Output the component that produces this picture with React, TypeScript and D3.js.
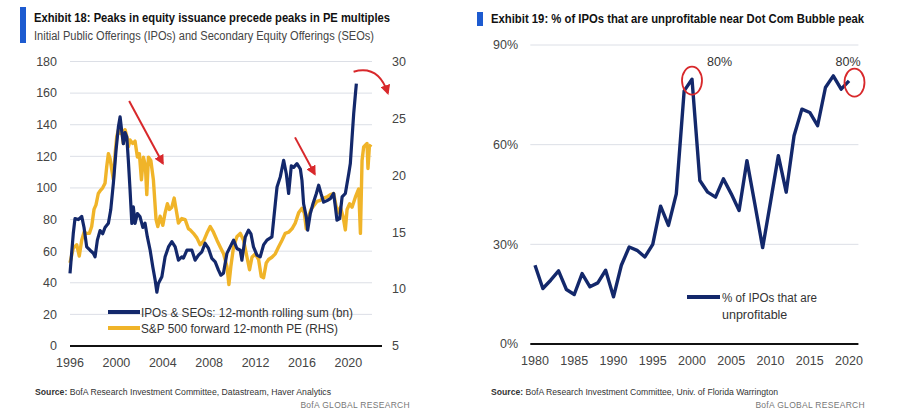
import React from "react";
import * as d3 from "d3";

// Exhibit 18: IPOs & SEOs 12-month rolling sum (bn), left axis
const issuanceYears = [
  1996.0, 1996.28, 1996.43, 1996.72, 1997.01, 1997.21, 1997.44, 1997.73, 1998.01, 1998.16,
  1998.36, 1998.59, 1998.82, 1999.02, 1999.31, 1999.51, 1999.74, 1999.97, 2000.17, 2000.32,
  2000.46, 2000.6, 2000.75, 2000.9, 2001.03, 2001.18, 2001.33, 2001.46, 2001.61, 2001.81,
  2002.04, 2002.28, 2002.47, 2002.67, 2002.91, 2003.14, 2003.34, 2003.49, 2003.62, 2003.92,
  2004.2, 2004.49, 2004.78, 2005.07, 2005.35, 2005.64, 2005.78, 2006.08, 2006.51, 2006.79,
  2007.08, 2007.37, 2007.65, 2007.94, 2008.23, 2008.52, 2008.8, 2009.01, 2009.23, 2009.53,
  2009.81, 2010.1, 2010.39, 2010.68, 2010.82, 2011.11, 2011.39, 2011.6, 2011.82, 2012.12,
  2012.4, 2012.69, 2012.98, 2013.41, 2013.7, 2013.85, 2014.13, 2014.42, 2014.65, 2014.85,
  2015.08, 2015.28, 2015.57, 2015.86, 2016.0, 2016.14, 2016.37, 2016.49, 2016.72, 2016.95,
  2017.24, 2017.44, 2017.64, 2017.87, 2018.16, 2018.45, 2018.73, 2018.88, 2019.02, 2019.25,
  2019.46, 2019.74, 2020.03, 2020.17, 2020.32, 2020.46, 2020.61, 2020.69,
];
const issuanceValues = [
  46, 71, 80.6, 80, 82, 75, 62.7, 60.6, 58.7, 56.4,
  67, 73, 71, 75, 77.6, 86, 103, 124, 138.5, 145,
  136, 128, 135, 132, 117.5, 98.5, 77.5, 88, 77.5, 83.8,
  81.7, 75, 77.7, 69, 60.6, 50, 41.7, 34, 39.6, 43.8,
  56.4, 62.7, 66, 62.7, 54.3, 56.4, 55.6, 60.6, 60.6, 54.3,
  57.5, 59.6, 65, 61.7, 55.4, 53.2, 48, 44.8, 46, 58.6,
  62.7, 67, 61.7, 60.6, 54.3, 69, 73.3, 71, 62.7, 57.5,
  56.4, 64, 67, 69, 90, 100.6, 107, 117.5, 109, 96.5,
  114, 113, 115.4, 112, 104.8, 90, 81.7, 73.3, 83.8, 90,
  96.5, 101.7, 96.5, 91, 92, 93.3, 96.5, 88, 79.6, 80.6,
  94.3, 96.5, 109, 115.4, 132, 147, 159.6, 166,
];

// S&P 500 forward 12-month PE, right axis
const peYears = [
  1996.0, 1996.28, 1996.58, 1996.8, 1997.01, 1997.21, 1997.44, 1997.67, 1997.87, 1998.07,
  1998.24, 1998.44, 1998.65, 1998.82, 1999.02, 1999.17, 1999.31, 1999.45, 1999.6, 1999.74,
  1999.89, 2000.03, 2000.17, 2000.32, 2000.46, 2000.6, 2000.75, 2000.9, 2001.03, 2001.18,
  2001.41, 2001.61, 2001.81, 2001.98, 2002.16, 2002.33, 2002.5, 2002.62, 2002.76, 2002.97,
  2003.19, 2003.42, 2003.57, 2003.77, 2004.0, 2004.2, 2004.4, 2004.57, 2004.78, 2004.98,
  2005.15, 2005.35, 2005.64, 2005.93, 2006.21, 2006.36, 2006.64, 2006.94, 2007.22, 2007.51,
  2007.8, 2008.09, 2008.37, 2008.67, 2008.95, 2009.24, 2009.53, 2009.7, 2009.87, 2010.1,
  2010.39, 2010.68, 2010.96, 2011.26, 2011.48, 2011.69, 2011.97, 2012.26, 2012.49, 2012.69,
  2012.92, 2013.12, 2013.41, 2013.7, 2013.98, 2014.28, 2014.56, 2014.85, 2015.14, 2015.42,
  2015.71, 2016.0, 2016.2, 2016.37, 2016.57, 2016.78, 2017.0, 2017.29, 2017.58, 2017.87,
  2018.16, 2018.45, 2018.73, 2018.96, 2019.16, 2019.31, 2019.54, 2019.74, 2019.89, 2020.11,
  2020.32, 2020.61, 2020.89, 2021.04, 2021.18, 2021.32, 2021.61, 2021.69, 2021.81, 2021.95,
];
const peValues = [
  12.3, 13.6, 13.9, 12.9, 14.3, 15.0, 14.9, 14.9, 15.5, 17,
  17.4, 18.4, 18.7, 18.9, 19.3, 20.8, 21.9, 21.5, 20.5, 19.6,
  21.9, 23.4, 24, 23.7, 24, 22.8, 24, 23.4, 22.5, 23.1,
  22.8, 23, 21.6, 21.9, 19.6, 21.6, 20.8, 18.3, 21.6, 21.3,
  19.6, 16.1, 15.5, 16.4, 15.6, 16.7, 17.5, 17, 17.2, 18,
  17, 15.8, 16.2, 16.1, 15.3, 15.2, 14.9, 14.5, 13.9, 14.2,
  14.9, 15.5, 15, 14.3, 13.7, 13.1, 12, 10.4, 12, 13.7,
  14.6, 14.9, 14.3, 12.8, 11.7, 12.8, 13.1, 12.6, 11.1, 11,
  12.3, 12.6, 12.8, 13.1, 13.7, 14.3, 14.9, 15, 15.3, 15.8,
  16.7, 17.1, 16.7, 15.3, 16.4, 17, 17.3, 17.7, 17.8, 18,
  18.1, 18.3, 18.4, 17.2, 16.7, 17.2, 16.4, 15.2, 17, 17.5,
  17.2, 18.1, 18.8, 14.9, 21.3, 22.5, 22.8, 20.6, 22.5, 22.7,
];

const leftTicks = [0, 20, 40, 60, 80, 100, 120, 140, 160, 180];
const rightTicks = [5, 10, 15, 20, 25, 30];
const yearTicks18 = [1996, 2000, 2004, 2008, 2012, 2016, 2020];

// Exhibit 19: % of IPOs that are unprofitable
const ipoYears = d3.range(1980, 2021);
const unprofitable = [
  23.7, 16.7, 19.2, 22, 16.4, 14.9, 21.2, 17.2, 18.4, 22.2,
  14.2, 23.7, 29.2, 28.2, 26.2, 30, 41.5, 35.7, 45.2, 76.2,
  79.7, 49.2, 45.7, 44.2, 49.7, 45.2, 40.2, 55.2, 42.2, 29,
  42.7, 56.7, 45.7, 62.7, 70.7, 69.7, 65.7, 77.2, 80.7, 76.7,
  79.2,
];
const pctTicks = [0, 30, 60, 90];
const yearTicks19 = [1980, 1985, 1990, 1995, 2000, 2005, 2010, 2015, 2020];

const NAVY = "#13286b";
const GOLD = "#f0b429";
const RED = "#d8282b";
const FONT = "'Liberation Sans', Arial, sans-serif";

function Exhibit18() {
  const x = d3.scaleLinear().domain([1996, 2022.9]).range([70, 382]);
  const yL = d3.scaleLinear().domain([0, 180]).range([346, 61.5]);
  const yR = d3.scaleLinear().domain([5, 30]).range([346, 61.5]);

  const issuance = issuanceYears.map((t, i) => [t, issuanceValues[i]] as [number, number]);
  const pe = peYears.map((t, i) => [t, peValues[i]] as [number, number]);

  const lineL = d3.line<[number, number]>().x(d => x(d[0])).y(d => yL(d[1]));
  const lineR = d3.line<[number, number]>().x(d => x(d[0])).y(d => yR(d[1]));

  // red arrows, in data space (year, left-axis value)
  const a1 = [[2001.1, 155], [2004.0, 115.6]];
  const a2 = [[2015.4, 132], [2017.1, 108.8]];
  const curve = `M${x(2020.45)},${yL(173.5)} Q${x(2022.6)},${yL(178)} ${x(2023.4)},${yL(160)}`;

  return (
    <g fontFamily={FONT}>
      <rect x={20} y={7} width={6} height={36} fill="#1d5bd0" />
      <text x={34} y={22} fontSize={12} fontWeight="bold" fill="#111"
        textLength={356} lengthAdjust="spacingAndGlyphs">
        Exhibit 18: Peaks in equity issuance precede peaks in PE multiples
      </text>
      <text x={34} y={40} fontSize={12} fill="#444"
        textLength={340} lengthAdjust="spacingAndGlyphs">
        Initial Public Offerings (IPOs) and Secondary Equity Offerings (SEOs)
      </text>

      {leftTicks.filter(t => t > 0).map(t => (
        <line key={"g" + t} x1={x(1996)} x2={372} y1={yL(t)} y2={yL(t)} stroke="#dcdfe6" strokeWidth={1} />
      ))}
      <line x1={x(1996)} x2={x(2022.9)} y1={yL(0)} y2={yL(0)} stroke="#111" strokeWidth={2} />

      {leftTicks.map(t => (
        <text key={"l" + t} x={57} y={yL(t)} dy="0.35em" textAnchor="end" fontSize={12.5} fill="#444">{t}</text>
      ))}
      {rightTicks.map(t => (
        <text key={"r" + t} x={392} y={yR(t)} dy="0.35em" fontSize={12.5} fill="#444">{t}</text>
      ))}
      {yearTicks18.map(t => (
        <text key={"x" + t} x={x(t)} y={367} textAnchor="middle" fontSize={12.5} fill="#444">{t}</text>
      ))}

      <path d={lineR(pe) || ""} fill="none" stroke={GOLD} strokeWidth={3.4} strokeLinejoin="round" />
      <path d={lineL(issuance) || ""} fill="none" stroke={NAVY} strokeWidth={3.2} strokeLinejoin="round" />

      <line x1={x(a1[0][0])} y1={yL(a1[0][1])} x2={x(a1[1][0])} y2={yL(a1[1][1])}
        stroke={RED} strokeWidth={2} markerEnd="url(#arrowRed)" />
      <line x1={x(a2[0][0])} y1={yL(a2[0][1])} x2={x(a2[1][0])} y2={yL(a2[1][1])}
        stroke={RED} strokeWidth={2} markerEnd="url(#arrowRed)" />
      <path d={curve} fill="none" stroke={RED} strokeWidth={2} markerEnd="url(#arrowRed)" />

      <line x1={108} x2={140} y1={312} y2={312} stroke={NAVY} strokeWidth={4} />
      <text x={141} y={316.5} fontSize={12.5} fill="#333" textLength={212} lengthAdjust="spacingAndGlyphs">
        IPOs &amp; SEOs: 12-month rolling sum (bn)
      </text>
      <line x1={108} x2={140} y1={328} y2={328} stroke={GOLD} strokeWidth={4} />
      <text x={141} y={332.5} fontSize={12.5} fill="#333" textLength={197} lengthAdjust="spacingAndGlyphs">
        S&amp;P 500 forward 12-month PE (RHS)
      </text>

      <text x={35} y={395} fontSize={8.5} fill="#333" textLength={296} lengthAdjust="spacingAndGlyphs">
        <tspan fontWeight="bold">Source:</tspan> BofA Research Investment Committee, Datastream, Haver Analytics
      </text>
      <text x={410} y={408} fontSize={8.5} fill="#777" textAnchor="end" letterSpacing={0.3}>
        BofA GLOBAL RESEARCH
      </text>
    </g>
  );
}

function Exhibit19() {
  const x = d3.scaleLinear().domain([1980, 2020]).range([535, 849]);
  const y = d3.scaleLinear().domain([0, 90]).range([344, 45]);
  const pts = ipoYears.map((t, i) => [t, unprofitable[i]] as [number, number]);
  const line = d3.line<[number, number]>().x(d => x(d[0])).y(d => y(d[1]));

  return (
    <g fontFamily={FONT}>
      <rect x={477} y={12} width={6} height={14} fill="#1d5bd0" />
      <text x={491} y={23} fontSize={12} fontWeight="bold" fill="#111"
        textLength={373} lengthAdjust="spacingAndGlyphs">
        Exhibit 19: % of IPOs that are unprofitable near Dot Com Bubble peak
      </text>

      {pctTicks.filter(t => t > 0).map(t => (
        <line key={"g" + t} x1={x(1979.4)} x2={x(2021.2)} y1={y(t)} y2={y(t)} stroke="#dcdfe6" strokeWidth={1} />
      ))}
      <line x1={x(1979.4)} x2={x(2021.2)} y1={y(0)} y2={y(0)} stroke="#111" strokeWidth={2} />
      {pctTicks.map(t => (
        <text key={"l" + t} x={518} y={y(t)} dy="0.35em" textAnchor="end" fontSize={12.5} fill="#444">{t}%</text>
      ))}
      {yearTicks19.map(t => (
        <text key={"x" + t} x={x(t)} y={365} textAnchor="middle" fontSize={12.5} fill="#444">{t}</text>
      ))}

      <path d={line(pts) || ""} fill="none" stroke={NAVY} strokeWidth={3.4} strokeLinejoin="round" />

      <ellipse cx={x(2000)} cy={y(79.3)} rx={10} ry={14} fill="none" stroke={RED} strokeWidth={1.8} />
      <ellipse cx={x(2020.7)} cy={y(78.7)} rx={10} ry={14} fill="none" stroke={RED} strokeWidth={1.8} />
      <text x={719.5} y={66} textAnchor="middle" fontSize={12.5} fill="#333">80%</text>
      <text x={848} y={66} textAnchor="middle" fontSize={12.5} fill="#333">80%</text>

      <line x1={687} x2={720} y1={297} y2={297} stroke={NAVY} strokeWidth={4} />
      <text x={722} y={301.5} fontSize={12.5} fill="#333" textLength={95} lengthAdjust="spacingAndGlyphs">% of IPOs that are</text>
      <text x={722} y={318.5} fontSize={12.5} fill="#333">unprofitable</text>

      <text x={491} y={395} fontSize={8.5} fill="#333" textLength={287} lengthAdjust="spacingAndGlyphs">
        <tspan fontWeight="bold">Source:</tspan> BofA Research Investment Committee, Univ. of Florida Warrington
      </text>
      <text x={865} y={408} fontSize={8.5} fill="#777" textAnchor="end" letterSpacing={0.3}>
        BofA GLOBAL RESEARCH
      </text>
    </g>
  );
}

export default function App() {
  return (
    <svg width={898} height={415} style={{ position: "absolute", left: 0, top: 0, background: "#fff" }}>
      <defs>
        <marker id="arrowRed" viewBox="0 0 10 10" refX={8} refY={5} markerWidth={5} markerHeight={5} orient="auto">
          <path d="M0,0 L10,5 L0,10 z" fill={RED} />
        </marker>
      </defs>
      <rect width={898} height={415} fill="#fff" />
      <Exhibit18 />
      <Exhibit19 />
    </svg>
  );
}
